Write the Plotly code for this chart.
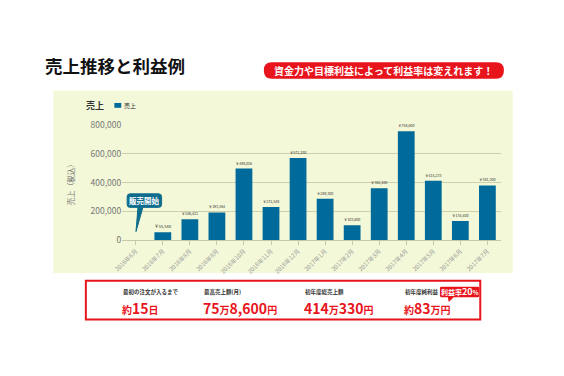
import plotly.graph_objects as go

# Page body has an 8px default margin; draw a figure 16px smaller and
# express every position in window pixels.
OFF = 8
W, H = 564 - 2 * OFF, 376 - 2 * OFF

months = ["2016年6月", "2016年7月", "2016年8月", "2016年9月", "2016年10月", "2016年11月",
          "2016年12月", "2017年1月", "2017年2月", "2017年3月", "2017年4月", "2017年5月",
          "2017年6月", "2017年7月"]
sales = [0, 55548, 146421, 193164, 498016, 231548, 572100, 289300, 103600, 362100,
         758600, 414233, 134400, 381300]
y_ticks = [0, 200000, 400000, 600000, 800000]

kpi_labels = ["最初の注文が入るまで", "最高売上額(月)", "初年度総売上額", "初年度純利益"]
kpi_values = [
    "<span style='font-size:10px'>約</span>15<span style='font-size:10px'>日</span>",
    "75<span style='font-size:10px'>万</span>8,600<span style='font-size:10px'>円</span>",
    "414<span style='font-size:10px'>万</span>330<span style='font-size:10px'>円</span>",
    "<span style='font-size:10px'>約</span>83<span style='font-size:10px'>万円</span>",
]

FONT = "Noto Sans CJK JP"
BAR = "#006a9a"
RED = "#e8141c"
GREEN = "#f3f8d8"


def px(x, y):
    return (x - OFF) / W, 1 - (y - OFF) / H


texts = ["" if v == 0 else f"￥{v:,}" for v in sales]

fig = go.Figure(go.Bar(
    x=months, y=sales, marker_color=BAR, marker_line_width=0, width=0.62,
    text=texts, textposition="outside", cliponaxis=False,
    textfont=dict(size=6.5, color="#333", family=FONT),
    showlegend=False,
))

x0, _ = px(115, 0)
x1, _ = px(500, 0)
_, y0 = px(0, 241)
_, y1 = px(0, 122)

fig.update_layout(
    width=W, height=H, margin=dict(l=0, r=0, t=0, b=0),
    paper_bgcolor="white", plot_bgcolor="rgba(0,0,0,0)",
    font=dict(family=FONT),
    xaxis=dict(domain=[x0, x1], tickangle=-45, tickfont=dict(size=6, color="#999"),
               showline=True, linecolor="#c8c8a8", linewidth=1, ticks="outside",
               ticklen=4, tickcolor="#c8c8a8", showgrid=False, fixedrange=True),
    yaxis=dict(domain=[y0, y1], range=[0, 800000], tickvals=y_ticks,
               ticktext=[f"{v:,}" for v in y_ticks],
               tickfont=dict(size=8.5, color="#777"), showgrid=True,
               gridcolor="#cfcfaa", gridwidth=1.2, zeroline=False, ticks="",
               title=dict(text="売上（税込）", font=dict(size=7.5, color="#777"), standoff=14)),
)

shapes = []
gx0, gy0 = px(45, 86)
gx1, gy1 = px(512, 275)
shapes.append(dict(type="rect", xref="paper", yref="paper", x0=gx0, y0=gy1, x1=gx1, y1=gy0,
                   fillcolor=GREEN, line_width=0, layer="below"))


def rounded(xa, ya, xb, yb, r, tail=None):
    def P(x, y):
        a, b = px(x, y)
        return f"{a:.5f},{b:.5f}"
    path = f"M {P(xa + r, ya)} L {P(xb - r, ya)} Q {P(xb, ya)} {P(xb, ya + r)} "
    path += f"L {P(xb, yb - r)} Q {P(xb, yb)} {P(xb - r, yb)} "
    if tail:
        (t1, t2, tx, ty) = tail
        path += f"L {P(t2, yb)} L {P(tx, ty)} L {P(t1, yb)} "
    path += f"L {P(xa + r, yb)} Q {P(xa, yb)} {P(xa, yb - r)} "
    path += f"L {P(xa, ya + r)} Q {P(xa, ya)} {P(xa + r, ya)} Z"
    return path


shapes.append(dict(type="path", xref="paper", yref="paper",
                   path=rounded(259, 57, 503, 74, 8), fillcolor=RED, line_width=0))
shapes.append(dict(type="path", xref="paper", yref="paper",
                   path=rounded(120, 193, 155, 207, 3, tail=(131, 136, 129, 232)),
                   fillcolor="#0e6c8c", line=dict(color="#0e6c8c", width=1)))
bx0, by0 = px(78, 283)
bx1, by1 = px(479, 323)
shapes.append(dict(type="rect", xref="paper", yref="paper", x0=bx0, y0=by1, x1=bx1, y1=by0,
                   fillcolor="white", line=dict(color=RED, width=2)))
shapes.append(dict(type="path", xref="paper", yref="paper",
                   path=rounded(438, 289, 478, 300, 1.5, tail=(446, 452, 447, 305)),
                   fillcolor=RED, line_width=0))
sx0, sy0 = px(107, 99)
sx1, sy1 = px(114, 104)
shapes.append(dict(type="rect", xref="paper", yref="paper", x0=sx0, y0=sy1, x1=sx1, y1=sy0,
                   fillcolor=BAR, line_width=0))

fig.update_layout(shapes=shapes)

ann = []


def add_text(x, y, text, size, color, xanchor="left", bold=False):
    a, b = px(x, y)
    ann.append(dict(xref="paper", yref="paper", x=a, y=b, xanchor=xanchor, yanchor="middle",
                    text=f"<b>{text}</b>" if bold else text, showarrow=False,
                    font=dict(size=size, color=color, family=FONT)))


add_text(34, 60, "売上推移と利益例", 17.5, "#111", bold=True)
add_text(381, 65.5, "資金力や目標利益によって利益率は変えれます！", 10, "white", xanchor="center", bold=True)
add_text(76, 102, "売上", 9, "#333", bold=True)
add_text(115, 102, "売上", 6, "#333")
add_text(137.5, 200, "販売開始", 7.5, "white", xanchor="center", bold=True)

kpi_x = [114, 196, 299, 400]
for xk, lab, val in zip(kpi_x, kpi_labels, kpi_values):
    add_text(xk, 295, lab, 5.5, "#333", bold=True)
    add_text(xk - 1, 311, val, 14, RED, bold=True)
add_text(458, 294.5, "利益率<span style='font-size:9px'>20</span><span style='font-size:6px'>%</span>",
         7, "white", xanchor="center", bold=True)

fig.update_layout(annotations=ann)
fig.write_html("out.html")
